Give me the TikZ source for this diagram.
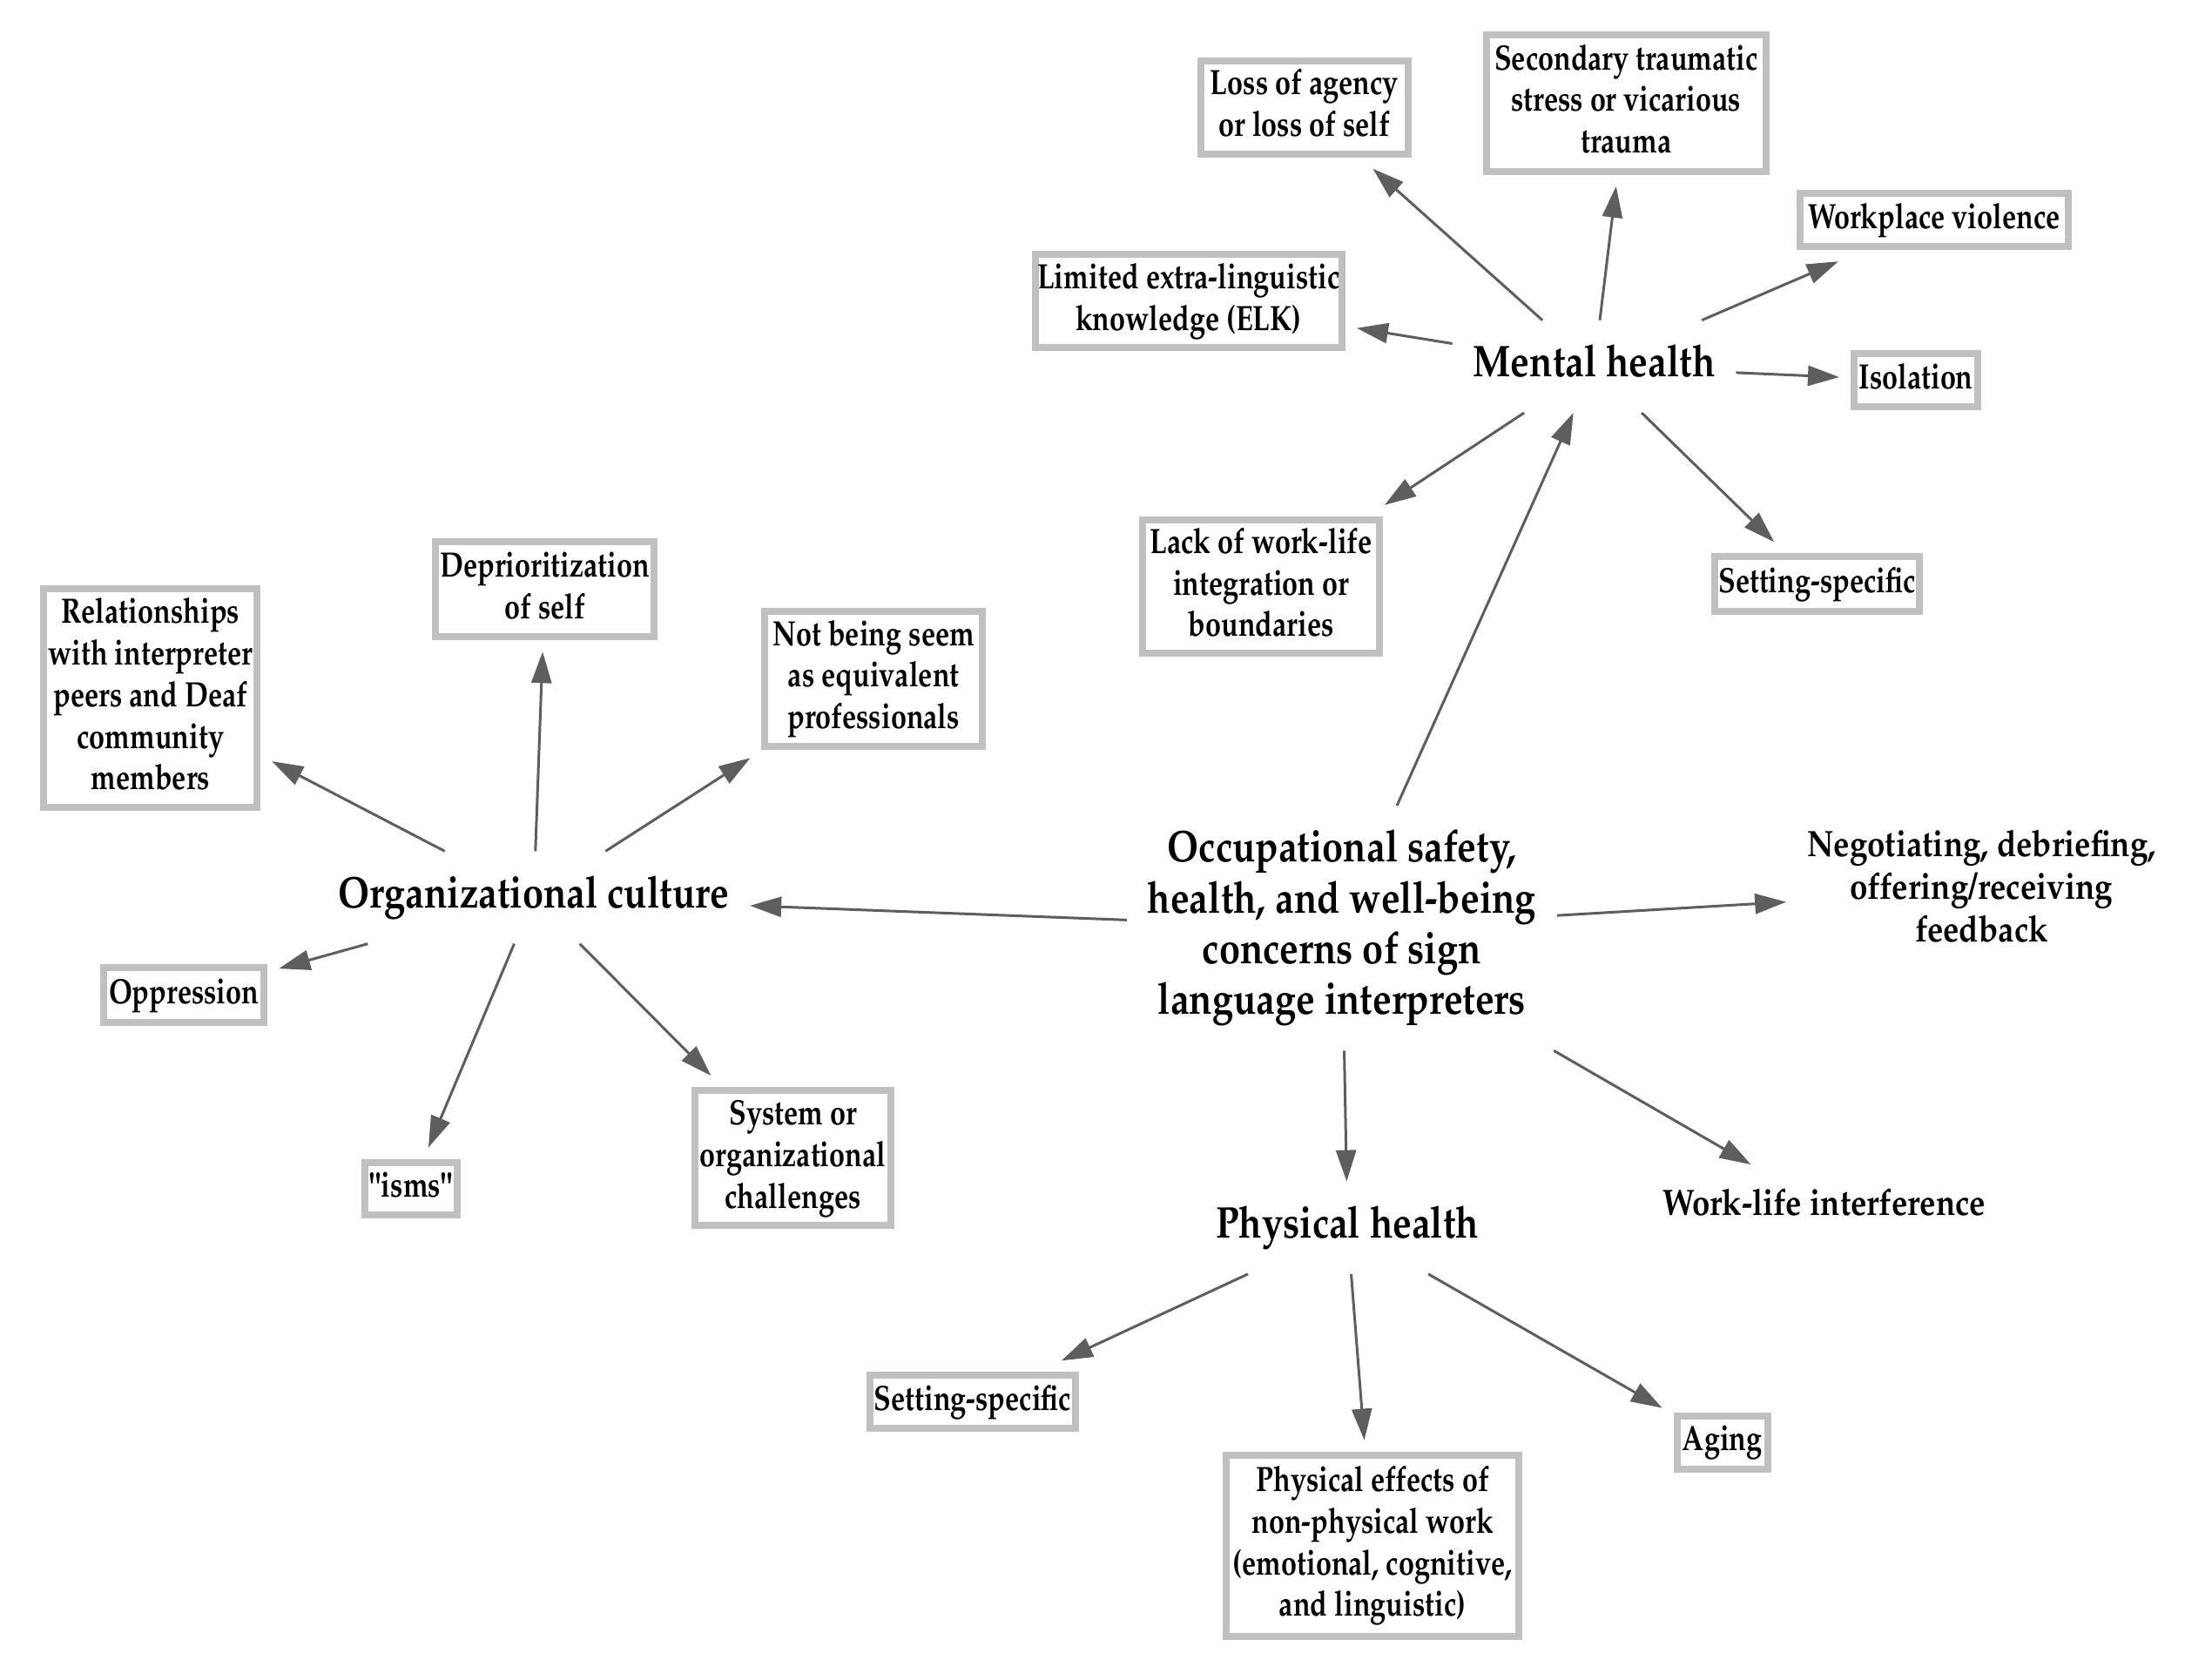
\documentclass[tikz,border=0pt]{standalone}
\usepackage[T1]{fontenc}
\usepackage{mathpazo}
\usepackage{graphicx}
\usetikzlibrary{arrows.meta}
\definecolor{linegray}{HTML}{5E5E5E}
\definecolor{boxgray}{HTML}{C0C0C0}
\newcommand{\bxt}[1]{\scalebox{0.8}[1]{\fontsize{11.5}{13.6}\selectfont\bfseries\begin{tabular}{@{}c@{}}#1\end{tabular}}}
\newcommand{\hubt}[1]{\scalebox{0.85}[1]{\fontsize{14.5}{16.6}\selectfont\bfseries\begin{tabular}{@{}c@{}}#1\end{tabular}}}
\newcommand{\lft}[1]{\scalebox{0.87}[1]{\fontsize{12}{14}\selectfont\bfseries\begin{tabular}{@{}c@{}}#1\end{tabular}}}
\begin{document}
\begin{tikzpicture}[x=0.016cm,y=-0.016cm,
  tbox/.style 2 args={draw=boxgray, line width=0.08cm, fill=white, inner sep=0pt,
    minimum width=#1*0.016cm, minimum height=#2*0.016cm, outer sep=0.17cm},
  plain/.style={inner sep=0pt, outer sep=0.24cm},
  arr/.style={draw=linegray, line width=0.03cm, -{Triangle[length=0.36cm,width=0.23cm]}}]
\fill[white] (0,0) rectangle (1568,1205);
\useasboundingbox (0,0) rectangle (1568,1205);
% hubs and free texts
\node[plain] (c) at (963,666) {\hubt{Occupational safety,\\health, and well-being\\concerns of sign\\language interpreters}};
\node[plain] (mh) at (1144,263) {\hubt{Mental health}};
\node[plain] (oc) at (383,644) {\hubt{Organizational culture}};
\node[plain] (ph) at (967,881) {\hubt{Physical health}};
\node[plain] (neg) at (1422,639) {\lft{Negotiating, debriefing,\\offering/receiving\\feedback}};
\node[plain] (wli) at (1309,866) {\lft{Work-life interference}};
% boxes
\node[tbox={149}{67}] (loa) at (936,77) {\bxt{Loss of agency\\or loss of self}};
\node[tbox={201}{98}] (stv) at (1167,74) {\bxt{Secondary traumatic\\stress or vicarious\\trauma}};
\node[tbox={192}{38}] (wv) at (1388,158) {\bxt{Workplace violence}};
\node[tbox={220}{67}] (elk) at (853,216) {\bxt{Limited extra-linguistic\\knowledge (ELK)}};
\node[tbox={89}{38}] (iso) at (1375,273) {\bxt{Isolation}};
\node[tbox={170}{96}] (lwl) at (905,421) {\bxt{Lack of work-life\\integration or\\boundaries}};
\node[tbox={147}{39}] (ssm) at (1304,419) {\bxt{Setting-specific}};
\node[tbox={157}{68}] (dep) at (391,423) {\bxt{Deprioritization\\of self}};
\node[tbox={153}{157}] (rel) at (108,501) {\bxt{Relationships\\with interpreter\\peers and Deaf\\community\\members}};
\node[tbox={156}{97}] (nbs) at (627,487) {\bxt{Not being seem\\as equivalent\\professionals}};
\node[tbox={115}{39}] (opp) at (132,714) {\bxt{Oppression}};
\node[tbox={66}{38}] (isms) at (295,853) {\bxt{\textquotedbl isms\textquotedbl}};
\node[tbox={141}{97}] (sys) at (569,831) {\bxt{System or\\organizational\\challenges}};
\node[tbox={147}{38}] (ssp) at (698,1006) {\bxt{Setting-specific}};
\node[tbox={210}{130}] (pe) at (985,1109) {\bxt{Physical effects of\\non-physical work\\(emotional, cognitive,\\and linguistic)}};
\node[tbox={65}{38}] (age) at (1236,1035) {\bxt{Aging}};
% connectors
\foreach \a/\b in {c/mh,c/oc,c/neg,c/ph,c/wli,mh/loa,mh/stv,mh/wv,mh/elk,mh/iso,mh/lwl,mh/ssm,oc/rel,oc/dep,oc/nbs,oc/opp,oc/isms,oc/sys,ph/ssp,ph/pe,ph/age}
  \draw[arr] (\a) -- (\b);
\end{tikzpicture}
\end{document}
